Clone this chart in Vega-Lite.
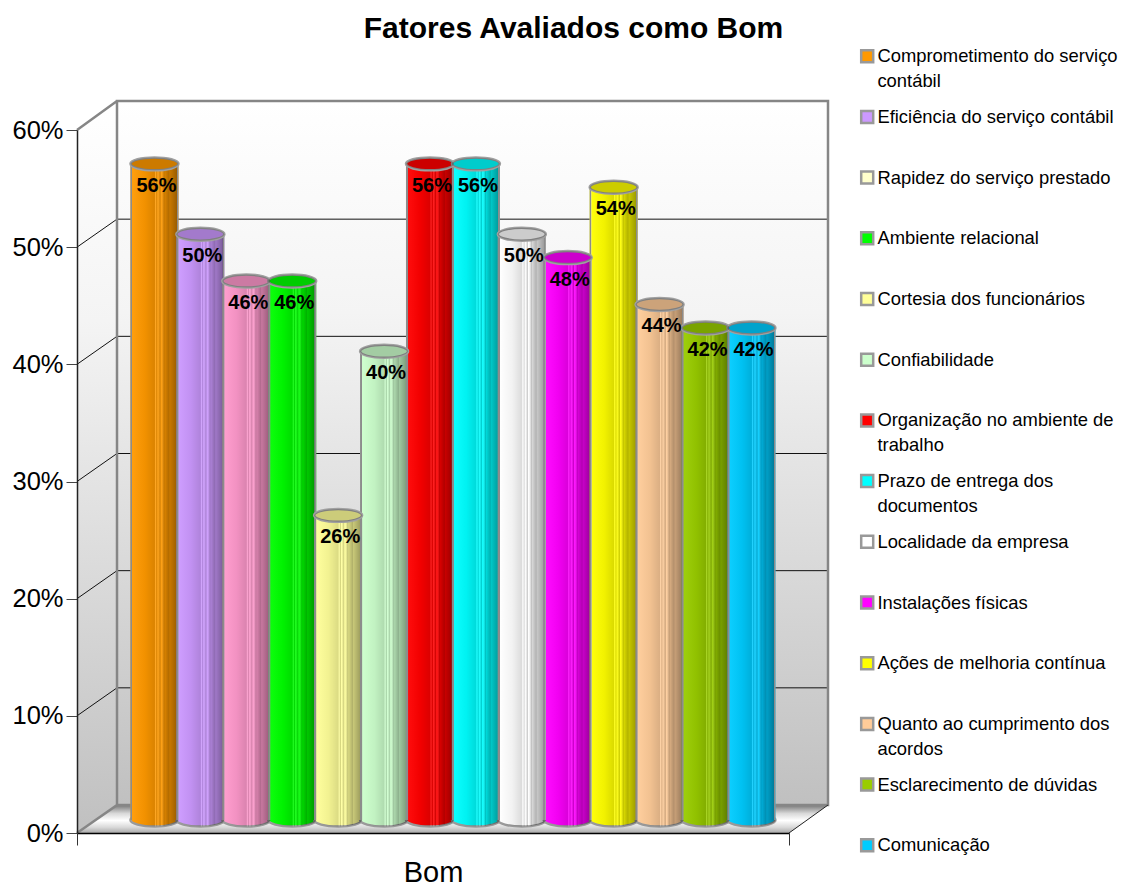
{
  "$schema": "https://vega.github.io/schema/vega-lite/v6.json",
  "width": 1133,
  "height": 886,
  "padding": 0,
  "autosize": {"type": "none"},
  "background": "white",
  "title": {
    "text": "Fatores Avaliados como Bom",
    "font": "Liberation Sans",
    "fontSize": 30,
    "fontWeight": "bold",
    "color": "black",
    "anchor": "middle",
    "frame": "group",
    "dx": 7,
    "dy": 48
  },
  "config": {"view": {"stroke": null}, "font": "Liberation Sans"},
  "data": {
    "values": [
      {"grupo": "Bom", "nome": "Comprometimento do serviço contábil", "valor": 0.56},
      {"grupo": "Bom", "nome": "Eficiência do serviço contábil", "valor": 0.50},
      {"grupo": "Bom", "nome": "Rapidez do serviço prestado", "valor": 0.46},
      {"grupo": "Bom", "nome": "Ambiente relacional", "valor": 0.46},
      {"grupo": "Bom", "nome": "Cortesia dos funcionários", "valor": 0.26},
      {"grupo": "Bom", "nome": "Confiabilidade", "valor": 0.40},
      {"grupo": "Bom", "nome": "Organização no ambiente de trabalho", "valor": 0.56},
      {"grupo": "Bom", "nome": "Prazo de entrega dos documentos", "valor": 0.56},
      {"grupo": "Bom", "nome": "Localidade da empresa", "valor": 0.50},
      {"grupo": "Bom", "nome": "Instalações físicas", "valor": 0.48},
      {"grupo": "Bom", "nome": "Ações de melhoria contínua", "valor": 0.54},
      {"grupo": "Bom", "nome": "Quanto ao cumprimento dos acordos", "valor": 0.44},
      {"grupo": "Bom", "nome": "Esclarecimento de dúvidas", "valor": 0.42},
      {"grupo": "Bom", "nome": "Comunicação", "valor": 0.42}
    ]
  },
  "encoding": {
    "x": {
      "field": "grupo",
      "type": "nominal",
      "scale": {"range": [77, 789], "paddingInner": 0, "paddingOuter": 0},
      "axis": {
        "title": null,
        "orient": "bottom",
        "offset": -53,
        "labelAngle": 0,
        "labelFontSize": 29,
        "labelColor": "black",
        "labelPadding": 13,
        "tickBand": "extent",
        "tickSize": 12,
        "tickColor": "#333333",
        "domainColor": "black",
        "domainWidth": 1.5,
        "grid": false,
        "zindex": 1
      }
    },
    "y": {
      "field": "valor",
      "type": "quantitative",
      "stack": null,
      "scale": {"domain": [0, 0.6], "range": [833, 130], "nice": false},
      "axis": {
        "title": null,
        "orient": "left",
        "offset": -77,
        "values": [0, 0.1, 0.2, 0.3, 0.4, 0.5, 0.6],
        "format": ".0%",
        "labelFontSize": 25.5,
        "labelColor": "black",
        "labelPadding": 3,
        "tickSize": 11,
        "tickColor": "#444444",
        "domainColor": "#222222",
        "domainWidth": 1.5,
        "grid": false,
        "zindex": 1
      }
    }
  },
  "layer": [
    {
      "description": "Back wall",
      "data": {"values": [{"grupo": "Bom", "valor": 0}]},
      "mark": {
        "type": "point",
        "shape": "M-316,-28 V-732 H395 V-28 Z",
        "size": 4,
        "filled": true,
        "opacity": 1,
        "fill": {"x1": 0, "y1": 0, "x2": 0, "y2": 1, "gradient": "linear", "stops": [{"offset": 0, "color": "#ffffff"}, {"offset": 0.3, "color": "#f4f4f4"}, {"offset": 1, "color": "#c0c0c0"}]}
      }
    },
    {
      "description": "Left wall",
      "data": {"values": [{"grupo": "Bom", "valor": 0}]},
      "mark": {
        "type": "point",
        "shape": "M-356,0 V-703 L-316,-732 V-28 Z",
        "size": 4,
        "filled": true,
        "opacity": 1,
        "fill": {"x1": 0, "y1": 0, "x2": 0, "y2": 1, "gradient": "linear", "stops": [{"offset": 0, "color": "#ffffff"}, {"offset": 0.3, "color": "#f4f4f4"}, {"offset": 1, "color": "#c0c0c0"}]}
      }
    },
    {
      "description": "Floor",
      "data": {"values": [{"grupo": "Bom", "valor": 0}]},
      "mark": {
        "type": "point",
        "shape": "M-356,0 L-316,-28 H395 L356,0 Z",
        "size": 4,
        "filled": true,
        "opacity": 1,
        "fill": {"x1": 0, "y1": 0, "x2": 0, "y2": 1, "gradient": "linear", "stops": [{"offset": 0, "color": "#777777"}, {"offset": 0.3, "color": "#d8d8d8"}, {"offset": 0.55, "color": "#ffffff"}, {"offset": 0.8, "color": "#d8d8d8"}, {"offset": 1, "color": "#a8a8a8"}]}
      }
    },
    {
      "description": "Gridlines across the side and back walls",
      "data": {"values": [{"grupo": "Bom", "valor": 0.1}, {"grupo": "Bom", "valor": 0.2}, {"grupo": "Bom", "valor": 0.3}, {"grupo": "Bom", "valor": 0.4}, {"grupo": "Bom", "valor": 0.5}]},
      "mark": {"type": "point", "shape": "M-356,0 L-316,-28 H395", "size": 4, "filled": false, "opacity": 1, "stroke": "#111111", "strokeWidth": 1}
    },
    {
      "description": "Grey frame of the walls",
      "data": {"values": [{"grupo": "Bom", "valor": 0}]},
      "mark": {"type": "point", "shape": "M-356,0 L-316,-28 V-732 H395 V-28 H-316 M-356,-703 L-316,-732", "size": 4, "filled": false, "opacity": 1, "stroke": "#868686", "strokeWidth": 2.5}
    },
    {
      "description": "Right edge of the floor",
      "data": {"values": [{"grupo": "Bom", "valor": 0}]},
      "mark": {"type": "point", "shape": "M356,0 L395,-28", "size": 4, "filled": false, "opacity": 1, "stroke": "#222222", "strokeWidth": 1}
    },
    {
      "description": "Column bases in the series colour",
      "mark": {"type": "point", "shape": "M-1,0 A1,0.27 0 1 1 1,0 A1,0.27 0 1 1 -1,0 Z", "size": 2304, "filled": true, "opacity": 1, "yOffset": -13, "stroke": "#999999", "strokeWidth": 2.5},
      "encoding": {
        "y": {"datum": 0, "type": "quantitative"},
        "xOffset": {"field": "nome", "type": "nominal", "sort": null, "scale": {"range": [54.5, 697.4], "paddingInner": 0, "paddingOuter": 0}},
        "fill": {
          "condition": {"test": "datum.nome === 'Rapidez do serviço prestado'", "value": "#FF99CC"},
          "field": "nome",
          "type": "nominal"
        }
      }
    },
    {
      "description": "Column bodies",
      "mark": {"type": "bar", "width": 48, "opacity": 1, "yOffset": -13, "y2Offset": -13},
      "encoding": {
        "y2": {"datum": 0},
        "xOffset": {"field": "nome", "type": "nominal", "sort": null},
        "fill": {
          "condition": {"test": "datum.nome === 'Rapidez do serviço prestado'", "value": "#FF99CC"},
          "field": "nome",
          "type": "nominal",
          "scale": {
            "domain": ["Comprometimento do serviço contábil", "Eficiência do serviço contábil", "Rapidez do serviço prestado", "Ambiente relacional", "Cortesia dos funcionários", "Confiabilidade", "Organização no ambiente de trabalho", "Prazo de entrega dos documentos", "Localidade da empresa", "Instalações físicas", "Ações de melhoria contínua", "Quanto ao cumprimento dos acordos", "Esclarecimento de dúvidas", "Comunicação"],
            "range": ["#FF9900", "#CC99FF", "#FFFFCC", "#00FF00", "#FFFF99", "#CCFFCC", "#FF0000", "#00FFFF", "#FFFFFF", "#FF00FF", "#FFFF00", "#FFCC99", "#99CC00", "#00CCFF"]
          },
          "legend": {
            "title": null,
            "orient": "none",
            "legendX": 858,
            "legendY": 53,
            "columns": 1,
            "gridAlign": "all",
            "rowPadding": 14.7,
            "symbolType": "M-1,-2 H1 V0 H-1 Z",
            "symbolSize": 144,
            "symbolStrokeColor": "#999999",
            "symbolStrokeWidth": 2.5,
            "symbolOpacity": 1,
            "labelFontSize": 18.4,
            "labelColor": "black",
            "labelLimit": 400,
            "labelOffset": 1,
            "labelBaseline": "alphabetic",
            "labelExpr": "length(datum.label) > 30 ? split(replace(datum.label, /\\s(\\S+)$/, '|$1'), '|') : datum.label",
            "encoding": {"labels": {"lineHeight": {"value": 25}}}
          }
        }
      }
    },
    {
      "description": "Shading with vertical facets over the columns",
      "mark": {
        "type": "bar",
        "width": 48,
        "opacity": 1,
        "yOffset": -13,
        "y2Offset": -13,
        "fill": {
          "x1": 0, "y1": 0, "x2": 1, "y2": 0, "gradient": "linear",
          "stops": [
            {"offset": 0, "color": "#8c8c8c"},
            {"offset": 0.035, "color": "#8c8c8c"},
            {"offset": 0.04, "color": "rgba(255,255,255,0.05)"},
            {"offset": 0.3, "color": "rgba(0,0,0,0.05)"},
            {"offset": 0.5, "color": "rgba(0,0,0,0.14)"},
            {"offset": 0.52, "color": "rgba(255,255,255,0.14)"},
            {"offset": 0.55, "color": "rgba(0,0,0,0.16)"},
            {"offset": 0.57, "color": "rgba(255,255,255,0.12)"},
            {"offset": 0.62, "color": "rgba(0,0,0,0.2)"},
            {"offset": 0.64, "color": "rgba(255,255,255,0.08)"},
            {"offset": 0.7, "color": "rgba(0,0,0,0.24)"},
            {"offset": 0.72, "color": "rgba(0,0,0,0.16)"},
            {"offset": 0.8, "color": "rgba(0,0,0,0.3)"},
            {"offset": 0.82, "color": "rgba(0,0,0,0.22)"},
            {"offset": 0.96, "color": "rgba(0,0,0,0.38)"},
            {"offset": 0.965, "color": "#8c8c8c"},
            {"offset": 1, "color": "#8c8c8c"}
          ]
        }
      },
      "encoding": {
        "y2": {"datum": 0},
        "xOffset": {"field": "nome", "type": "nominal", "sort": null}
      }
    },
    {
      "description": "Same shading over the rounded column bases",
      "mark": {
        "type": "point",
        "shape": "M-1,0 A1,0.27 0 0 0 1,0 Z",
        "size": 2304,
        "filled": true,
        "opacity": 1,
        "yOffset": -13,
        "fill": {
          "x1": 0, "y1": 0, "x2": 1, "y2": 0, "gradient": "linear",
          "stops": [
            {"offset": 0.0, "color": "rgba(255,255,255,0.05)"},
            {"offset": 0.3, "color": "rgba(0,0,0,0.05)"},
            {"offset": 0.5, "color": "rgba(0,0,0,0.14)"},
            {"offset": 0.52, "color": "rgba(255,255,255,0.14)"},
            {"offset": 0.55, "color": "rgba(0,0,0,0.16)"},
            {"offset": 0.57, "color": "rgba(255,255,255,0.12)"},
            {"offset": 0.62, "color": "rgba(0,0,0,0.2)"},
            {"offset": 0.64, "color": "rgba(255,255,255,0.08)"},
            {"offset": 0.7, "color": "rgba(0,0,0,0.24)"},
            {"offset": 0.72, "color": "rgba(0,0,0,0.16)"},
            {"offset": 0.8, "color": "rgba(0,0,0,0.3)"},
            {"offset": 0.82, "color": "rgba(0,0,0,0.22)"},
            {"offset": 1, "color": "rgba(0,0,0,0.38)"}
          ]
        }
      },
      "encoding": {
        "y": {"datum": 0, "type": "quantitative"},
        "xOffset": {"field": "nome", "type": "nominal", "sort": null}
      }
    },
    {
      "description": "Column tops",
      "mark": {"type": "point", "shape": "M-1,0 A1,0.27 0 1 1 1,0 A1,0.27 0 1 1 -1,0 Z", "size": 2304, "filled": true, "opacity": 1, "yOffset": -13, "stroke": "#a0a0a0", "strokeWidth": 2.5},
      "encoding": {
        "xOffset": {"field": "nome", "type": "nominal", "sort": null},
        "fill": {
          "condition": {"test": "datum.nome === 'Rapidez do serviço prestado'", "value": "#FF99CC"},
          "field": "nome",
          "type": "nominal"
        }
      }
    },
    {
      "description": "Darker tint on the column tops",
      "mark": {"type": "point", "shape": "M-1,0 A1,0.27 0 1 1 1,0 A1,0.27 0 1 1 -1,0 Z", "size": 2304, "filled": true, "fill": "black", "opacity": 0.2, "yOffset": -13},
      "encoding": {
        "xOffset": {"field": "nome", "type": "nominal", "sort": null}
      }
    },
    {
      "description": "Value labels",
      "mark": {"type": "text", "font": "Liberation Sans", "fontSize": 20, "fontWeight": "bold", "color": "black", "baseline": "middle", "yOffset": 9, "dx": 2},
      "encoding": {
        "xOffset": {"field": "nome", "type": "nominal", "sort": null},
        "text": {"field": "valor", "type": "quantitative", "format": ".0%"}
      }
    }
  ]
}
